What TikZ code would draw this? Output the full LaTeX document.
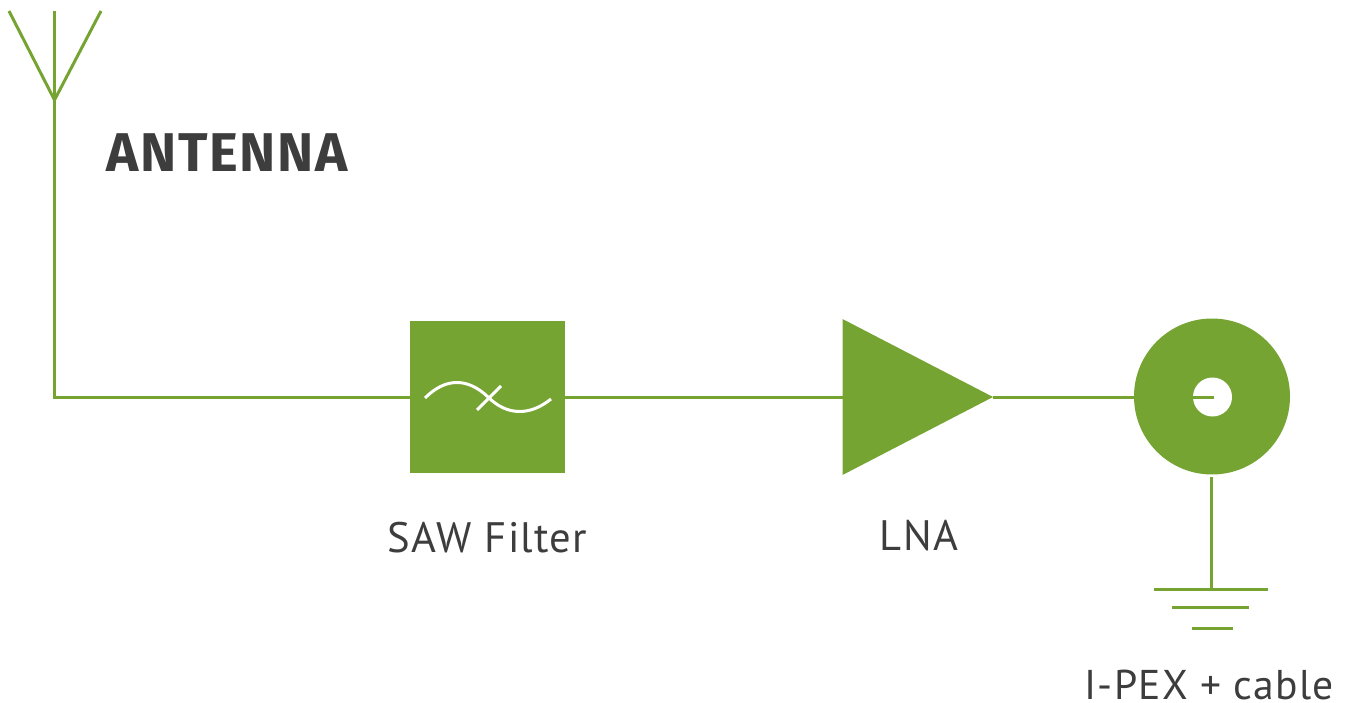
\documentclass[tikz,border=0pt]{standalone}
\usepackage{fontspec}
\setmainfont{Fira Sans}
\newfontfamily\labelfont[LetterSpace=3]{PT Sans}
\newfontfamily\titlefont[LetterSpace=3.2]{Fira Sans}
\definecolor{leaf}{HTML}{75A432}
\definecolor{ink}{HTML}{3D3D3D}
\tikzset{
  wire/.style={draw=leaf,line width=3pt},
  solid block/.style={fill=leaf,draw=none,inner sep=0pt},
  caption/.style={text=ink,inner sep=0pt,anchor=base,font=\labelfont\fontsize{42.6}{43}\selectfont},
  glyph/.style={draw=white,line width=3pt}
}
\begin{document}
\begin{tikzpicture}[x=1pt,y=-1pt]
\useasboundingbox (0,0) rectangle (1349,703);
% antenna
\coordinate (apex) at (54.5,100);
\coordinate (tipL) at (9,11);
\coordinate (tipM) at (54.5,11);
\coordinate (tipR) at (101,11);
\coordinate (corner) at (54.5,397);
\draw[wire,line join=miter] (tipL) -- (apex) -- (tipR);
\draw[wire] (tipM) -- (apex);
% blocks
\node[solid block,rectangle,minimum width=155pt,minimum height=152pt] (saw) at (487.5,397) {};
\coordinate (lnaA) at (842.5,319);
\coordinate (lnaB) at (842.5,475);
\coordinate (lnaC) at (993,397);
\fill[leaf] (lnaA) -- (lnaC) -- (lnaB) -- cycle;
\coordinate (lnaIn) at (842.5,397);
\node[solid block,circle,minimum size=156pt] (coax) at (1212,396.5) {};
\node[circle,fill=white,inner sep=0pt,minimum size=39pt] (hole) at (1212.5,397) {};
\coordinate (core) at (1214,397);
% connectors
\draw[wire,line join=miter] (apex) -- (corner) -- (saw.west);
\draw[wire] (saw.east) -- (lnaIn);
\draw[wire] (lnaC) -- (lnaC -| coax.west);
\draw[wire] (hole.west) -- (core);
% filter glyph
\coordinate (cA) at (425,398);
\coordinate (cB) at (488,397);
\coordinate (cC) at (551,399);
\coordinate (xA) at (477,410);
\coordinate (xB) at (501,386);
\draw[glyph] (cA) .. controls (445,378) and (467,377) .. (cB) .. controls (507,416) and (530,416) .. (cC);
\draw[glyph] (xA) -- (xB);
% ground
\coordinate (gndTop) at (1211.5,477);
\coordinate (g1L) at (1154,589);
\coordinate (g1R) at (1268,589);
\coordinate (g2L) at (1172,607);
\coordinate (g2R) at (1249,607);
\coordinate (g3L) at (1192,628);
\coordinate (g3R) at (1233,628);
\coordinate (gndBot) at (1211.5,589);
\draw[wire] (gndTop) -- (gndBot);
\draw[wire] (g1L) -- (g1R);
\draw[wire] (g2L) -- (g2R);
\draw[wire] (g3L) -- (g3R);
% labels
\node[text=ink,inner sep=0pt,anchor=base west,font=\titlefont\bfseries\fontsize{54.6}{55}\selectfont] (title) at (106,172) {ANTENNA};
\node[caption] (lsaw) at (487.5,552.5) {SAW Filter};
\node[caption] (llna) at (919,550.5) {LNA};
\node[caption,font=\labelfont\fontsize{41.6}{42}\selectfont] (lcab) at (1209,699.5) {I-PEX + cable};
\end{tikzpicture}
\end{document}
